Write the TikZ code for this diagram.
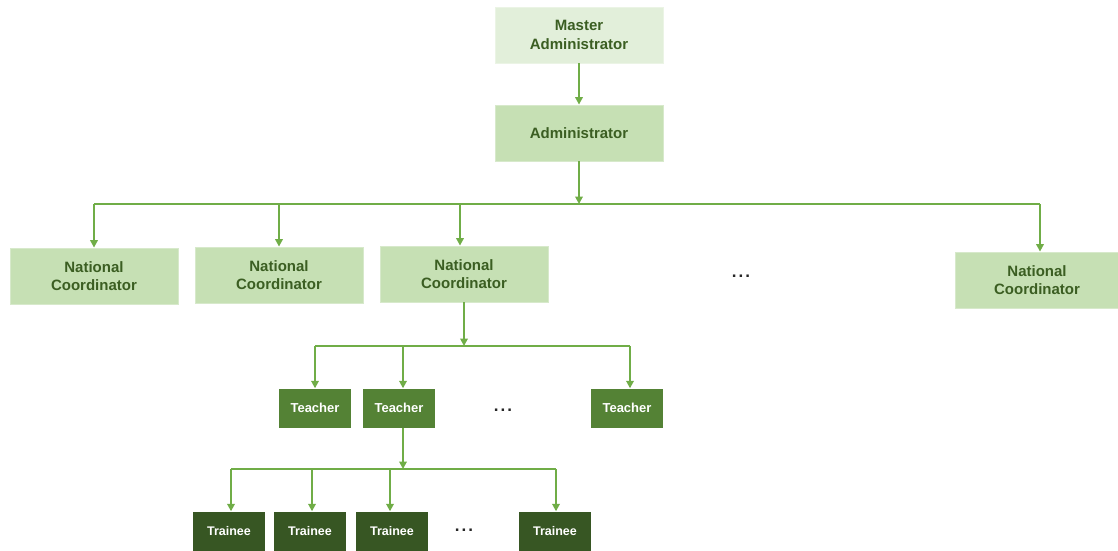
\documentclass[tikz,border=0pt]{standalone}
\usepackage{fontspec}
\setmainfont{Liberation Sans}
\usetikzlibrary{arrows.meta}
\definecolor{lightest}{HTML}{E2EFDA}
\definecolor{lightg}{HTML}{C6E0B4}
\definecolor{midg}{HTML}{548235}
\definecolor{darkg}{HTML}{375623}
\definecolor{txtg}{HTML}{3B5E22}
\definecolor{lineg}{HTML}{70AD47}
\begin{document}
\begin{tikzpicture}[x=1pt,y=-1pt,
  box/.style={rectangle, inner sep=0pt, align=center, font=\fontsize{15}{18.5}\selectfont\bfseries},
  lbox/.style={box, fill=lightg, draw=lightg!70!white, line width=0.8pt, text=txtg, minimum width=168pt, minimum height=56pt},
  tbox/.style={box, fill=midg, text=white, minimum width=72pt, minimum height=39pt, font=\fontsize{13}{15}\selectfont\bfseries},
  trbox/.style={box, fill=darkg, text=white, minimum width=72pt, minimum height=39pt, font=\fontsize{12.5}{15}\selectfont\bfseries},
  conn/.style={draw=lineg, line width=2pt},
  arr/.style={conn, -{Triangle[length=7.5pt,width=7.5pt]}},
  dots/.style={font=\fontsize{17}{18}\selectfont\bfseries, text=black!85}
]
\useasboundingbox (0,0) rectangle (1118,550);
% top
\node[lbox, fill=lightest, draw=lightest!70!white] (master) at (579,35) {Master\\Administrator};
\node[lbox] (admin) at (579,133) {Administrator};
% national coordinators
\node[lbox] (nc1) at (94,276) {National\\Coordinator};
\node[lbox] (nc2) at (279,275) {National\\Coordinator};
\node[lbox] (nc3) at (464,274) {National\\Coordinator};
\node[lbox, minimum width=164pt] (nc4) at (1037,280) {National\\Coordinator};
\node[dots] (d1) at (741,276) {.\kern2pt.\kern2pt.};
% teachers
\node[tbox] (t1) at (315,408) {Teacher};
\node[tbox] (t2) at (399,408) {Teacher};
\node[tbox] (t3) at (627,408) {Teacher};
\node[dots] (d2) at (503,410) {.\kern2pt.\kern2pt.};
% trainees
\node[trbox] (r1) at (229,531) {Trainee};
\node[trbox] (r2) at (310,531) {Trainee};
\node[trbox] (r3) at (392,531) {Trainee};
\node[trbox] (r4) at (555,531) {Trainee};
\node[dots] (d3) at (464,530) {.\kern2pt.\kern2pt.};
% bus coordinates
\coordinate (b1) at (579,204);
\coordinate (b1l) at (94,204);
\coordinate (b1r) at (1040,204);
\coordinate (b2) at (464,346);
\coordinate (b2l) at (315,346);
\coordinate (b2r) at (630,346);
\coordinate (b3) at (403,469);
\coordinate (b3l) at (231,469);
\coordinate (b3r) at (556,469);
% connectors
\draw[arr] (master) -- (admin);
\draw[arr] (admin) -- (b1);
\draw[conn] (b1l) -- (b1r);
\draw[arr] (b1l) -- (nc1.north);
\draw[arr] (nc2 |- b1) -- (nc2.north);
\draw[arr] ([xshift=-4pt]nc3.north |- b1) -- ([xshift=-4pt]nc3.north);
\draw[arr] (b1r) -- (b1r |- nc4.north);
\draw[arr] (nc3) -- (b2);
\draw[conn] (b2l) -- (b2r);
\draw[arr] (b2l) -- (t1.north);
\draw[arr] ([xshift=4pt]t2.north |- b2) -- ([xshift=4pt]t2.north);
\draw[arr] (b2r) -- (b2r |- t3.north);
\draw[arr] ([xshift=4pt]t2.south) -- (b3);
\draw[conn] (b3l) -- (b3r);
\draw[arr] (b3l) -- (b3l |- r1.north);
\draw[arr] ([xshift=2pt]r2.north |- b3) -- ([xshift=2pt]r2.north);
\draw[arr] ([xshift=-2pt]r3.north |- b3) -- ([xshift=-2pt]r3.north);
\draw[arr] (b3r) -- (b3r |- r4.north);
\end{tikzpicture}
\end{document}
